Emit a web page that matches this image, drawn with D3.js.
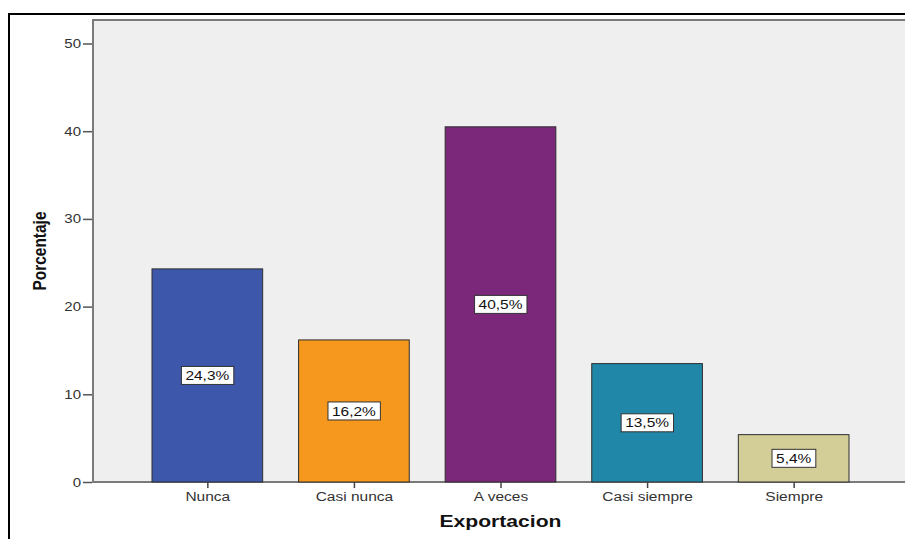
<!DOCTYPE html>
<html>
<head>
<meta charset="utf-8">
<script src="https://cdn.jsdelivr.net/npm/d3@7"></script>
<style>
  html, body { margin: 0; padding: 0; background: #ffffff; }
  svg { display: block; }
</style>
</head>
<body>
<script>
// Frequency chart: "Exportacion" responses, in percent
const categories = ["Nunca", "Casi nunca", "A veces", "Casi siempre", "Siempre"];
const percentages = [24.3, 16.2, 40.5, 13.5, 5.4];
const barColors = ["#3d57ab", "#f7981e", "#7b287b", "#2187a8", "#d3cd98"];
const yTicks = [0, 10, 20, 30, 40, 50];
const xTitle = "Exportacion";
const yTitle = "Porcentaje";

const W = 905, H = 539;
const plot = { left: 93, top: 20, right: 908, bottom: 482 };
const FONT = "'Liberation Sans', Arial, sans-serif";

// widen text glyphs horizontally by a factor (wide sans rendering)
function widen(sel, factor) {
  sel.each(function () {
    const len = this.getComputedTextLength();
    d3.select(this)
      .attr("textLength", len * factor)
      .attr("lengthAdjust", "spacingAndGlyphs");
  });
}

const svg = d3.select("body").append("svg")
  .attr("width", W).attr("height", H);

// outer frame
svg.append("path")
  .attr("d", `M9,${H + 5} V14 H${W + 5}`)
  .attr("fill", "none").attr("stroke", "#000").attr("stroke-width", 2);

// plot background
svg.append("rect")
  .attr("x", plot.left).attr("y", plot.top)
  .attr("width", plot.right - plot.left).attr("height", plot.bottom - plot.top)
  .attr("fill", "#efefef").attr("stroke", "#7a7a7a").attr("stroke-width", 2);

const x = d3.scalePoint()
  .domain(categories)
  .range([plot.left, plot.right])
  .padding(0.78);

const barWidth = x.step() * 0.755;

const y = d3.scaleLinear()
  .domain([0, 50])
  .range([plot.bottom, plot.top + 23.5]);

// bars
svg.append("g").selectAll("rect")
  .data(categories)
  .join("rect")
  .attr("x", d => x(d) - barWidth / 2)
  .attr("y", (d, i) => y(percentages[i]))
  .attr("width", barWidth)
  .attr("height", (d, i) => y(0) - y(percentages[i]))
  .attr("fill", (d, i) => barColors[i])
  .attr("stroke", "#2e2e2e").attr("stroke-width", 1);

// value labels in the middle of each bar
const labels = svg.append("g").selectAll("g")
  .data(categories)
  .join("g")
  .attr("transform", (d, i) => `translate(${x(d)},${(y(percentages[i]) + y(0)) / 2})`);

const labelText = labels.append("text")
  .attr("text-anchor", "middle")
  .attr("dy", "0.36em")
  .attr("font-family", FONT)
  .attr("font-size", 13)
  .attr("fill", "#111")
  .text((d, i) => d3.format(".1f")(percentages[i]).replace(".", ",") + "%");
widen(labelText, 1.19);
labelText.each(function () {
  const bb = this.getBBox();
  d3.select(this.parentNode).insert("rect", "text")
    .attr("x", bb.x - 4).attr("y", -9)
    .attr("width", bb.width + 8).attr("height", 18)
    .attr("fill", "#fff").attr("stroke", "#333").attr("stroke-width", 1);
});

// y axis
const yAxis = svg.append("g")
  .attr("transform", `translate(${plot.left - 1},0)`)
  .call(d3.axisLeft(y).tickValues(yTicks).tickSize(9).tickPadding(2).tickSizeOuter(0));
yAxis.select(".domain").remove();
yAxis.selectAll("line").attr("stroke", "#555").attr("stroke-width", 1.5);
yAxis.selectAll("text")
  .attr("font-family", FONT)
  .attr("font-size", 12.5).attr("fill", "#333");
widen(yAxis.selectAll("text"), 1.2);

// x axis
const xAxis = svg.append("g")
  .attr("transform", `translate(0,${plot.bottom})`)
  .call(d3.axisBottom(x).tickSize(6).tickPadding(4).tickSizeOuter(0));
xAxis.select(".domain").remove();
xAxis.selectAll("line").attr("stroke", "#444").attr("stroke-width", 1.5);
xAxis.selectAll("text")
  .attr("font-family", FONT)
  .attr("font-size", 12.5).attr("fill", "#333");
widen(xAxis.selectAll("text"), 1.24);

// axis titles
svg.append("text")
  .attr("x", (plot.left + plot.right) / 2).attr("y", 527)
  .attr("text-anchor", "middle")
  .attr("font-family", FONT)
  .attr("font-size", 16).attr("font-weight", "bold")
  .attr("textLength", 122).attr("lengthAdjust", "spacingAndGlyphs")
  .attr("fill", "#111")
  .text(xTitle);

svg.append("text")
  .attr("transform", `translate(46,${(plot.top + plot.bottom) / 2}) rotate(-90)`)
  .attr("text-anchor", "middle")
  .attr("font-family", "'Liberation Sans Narrow', 'Arial Narrow', 'Liberation Sans', sans-serif")
  .attr("font-size", 18).attr("font-weight", "bold")
  .attr("textLength", 79).attr("lengthAdjust", "spacingAndGlyphs")
  .attr("fill", "#111")
  .text(yTitle);
</script>
</body>
</html>
